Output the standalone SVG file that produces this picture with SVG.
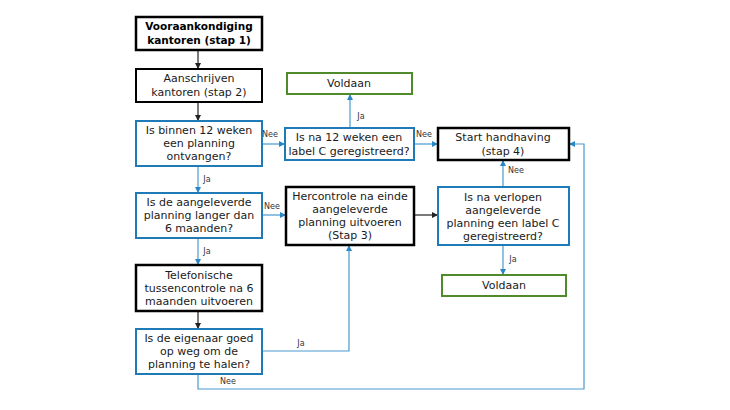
<svg xmlns="http://www.w3.org/2000/svg" width="730" height="410" viewBox="0 0 730 410">
<style>
.t{font-family:"DejaVu Sans",Verdana,sans-serif;font-size:11px;fill:#1a1a1a;text-anchor:middle}
.b{font-weight:bold;font-size:10.5px;fill:#000}
.l{font-family:"DejaVu Sans",Verdana,sans-serif;font-size:8px;fill:#333;text-anchor:middle}
.bk{fill:#fff;stroke:#000;stroke-width:2.5}
.bk2{fill:#fff;stroke:#000;stroke-width:2}
.bl{fill:#fff;stroke:#1f7ab8;stroke-width:2}
.gr{fill:#fff;stroke:#4f8a2b;stroke-width:2}
.cb{fill:none;stroke:#4a9ad0;stroke-width:1.2;marker-end:url(#ab)}
.ck{fill:none;stroke:#222;stroke-width:1.2;marker-end:url(#ak)}
</style>
<defs>
<marker id="ab" markerWidth="6" markerHeight="6" refX="5" refY="3" orient="auto" markerUnits="userSpaceOnUse"><path d="M0,0 L6,3 L0,6 z" fill="#2b86c4"/></marker>
<marker id="ak" markerWidth="6" markerHeight="6" refX="5" refY="3" orient="auto" markerUnits="userSpaceOnUse"><path d="M0,0 L6,3 L0,6 z" fill="#222"/></marker>
</defs>
<rect width="730" height="410" fill="#fff"/>
<g id="connectors">
<path class="ck" d="M198,50 V68"/>
<path class="ck" d="M198,102 V120"/>
<path class="cb" d="M262,144 H284"/>
<path class="cb" d="M350,128 V95"/>
<path class="cb" d="M414,144 H437"/>
<path class="cb" d="M198,166 V192"/>
<path class="cb" d="M262,215 H285"/>
<path class="ck" d="M414,215 H437"/>
<path class="cb" d="M503,187 V161"/>
<path class="cb" d="M503,245 V274"/>
<path class="cb" d="M198,238 V264"/>
<path class="ck" d="M198,311 V328"/>
<path class="cb" d="M262,351 H349 V246"/>
<path class="cb" d="M198,374 V389 H584 V144 H570"/>
<text class="l" x="270" y="137">Nee</text>
<text class="l" x="361" y="119">Ja</text>
<text class="l" x="424" y="137">Nee</text>
<text class="l" x="207" y="182">Ja</text>
<text class="l" x="272" y="209">Nee</text>
<text class="l" x="516" y="173">Nee</text>
<text class="l" x="513" y="262">Ja</text>
<text class="l" x="207" y="254">Ja</text>
<text class="l" x="301" y="346">Ja</text>
<text class="l" x="228" y="384">Nee</text>
</g>
<g id="n1"><rect class="bk" x="136" y="17" width="126" height="33"/><text class="t b" x="199" y="30">Vooraankondiging</text><text class="t b" x="199" y="44">kantoren (stap 1)</text></g>
<g id="n2"><rect class="bk2" x="136" y="69" width="126" height="33"/><text class="t" x="199" y="82">Aanschrijven</text><text class="t" x="199" y="96">kantoren (stap 2)</text></g>
<g id="n3"><rect class="bl" x="136" y="121" width="126" height="45"/><text class="t" x="199" y="134">Is binnen 12 weken</text><text class="t" x="199" y="147">een planning</text><text class="t" x="199" y="160">ontvangen?</text></g>
<g id="n4"><rect class="bl" x="285" y="128" width="129" height="32"/><text class="t" x="349" y="141">Is na 12 weken een</text><text class="t" x="349" y="155">label C geregistreerd?</text></g>
<g id="n5"><rect class="gr" x="287" y="73" width="125" height="21"/><text class="t" x="349" y="87">Voldaan</text></g>
<g id="n6"><rect class="bk" x="438" y="128" width="131" height="32"/><text class="t" x="503" y="141">Start handhaving</text><text class="t" x="503" y="155">(stap 4)</text></g>
<g id="n7"><rect class="bl" x="136" y="193" width="126" height="45"/><text class="t" x="199" y="206">Is de aangeleverde</text><text class="t" x="199" y="219">planning langer dan</text><text class="t" x="199" y="232">6 maanden?</text></g>
<g id="n8"><rect class="bk" x="286" y="187" width="128" height="58"/><text class="t" x="350" y="200">Hercontrole na einde</text><text class="t" x="350" y="213">aangeleverde</text><text class="t" x="350" y="226">planning uitvoeren</text><text class="t" x="350" y="239">(Stap 3)</text></g>
<g id="n9"><rect class="bl" x="438" y="187" width="131" height="58"/><text class="t" x="503" y="201">Is na verlopen</text><text class="t" x="503" y="214">aangeleverde</text><text class="t" x="503" y="227">planning een label C</text><text class="t" x="503" y="240">geregistreerd?</text></g>
<g id="n10"><rect class="gr" x="442" y="275" width="124" height="21"/><text class="t" x="504" y="289">Voldaan</text></g>
<g id="n11"><rect class="bk" x="136" y="265" width="126" height="46"/><text class="t" x="199" y="279">Telefonische</text><text class="t" x="199" y="292">tussencontrole na 6</text><text class="t" x="199" y="305">maanden uitvoeren</text></g>
<g id="n12"><rect class="bl" x="136" y="329" width="126" height="45"/><text class="t" x="199" y="342">Is de eigenaar goed</text><text class="t" x="199" y="355">op weg om de</text><text class="t" x="199" y="368">planning te halen?</text></g>
</svg>
